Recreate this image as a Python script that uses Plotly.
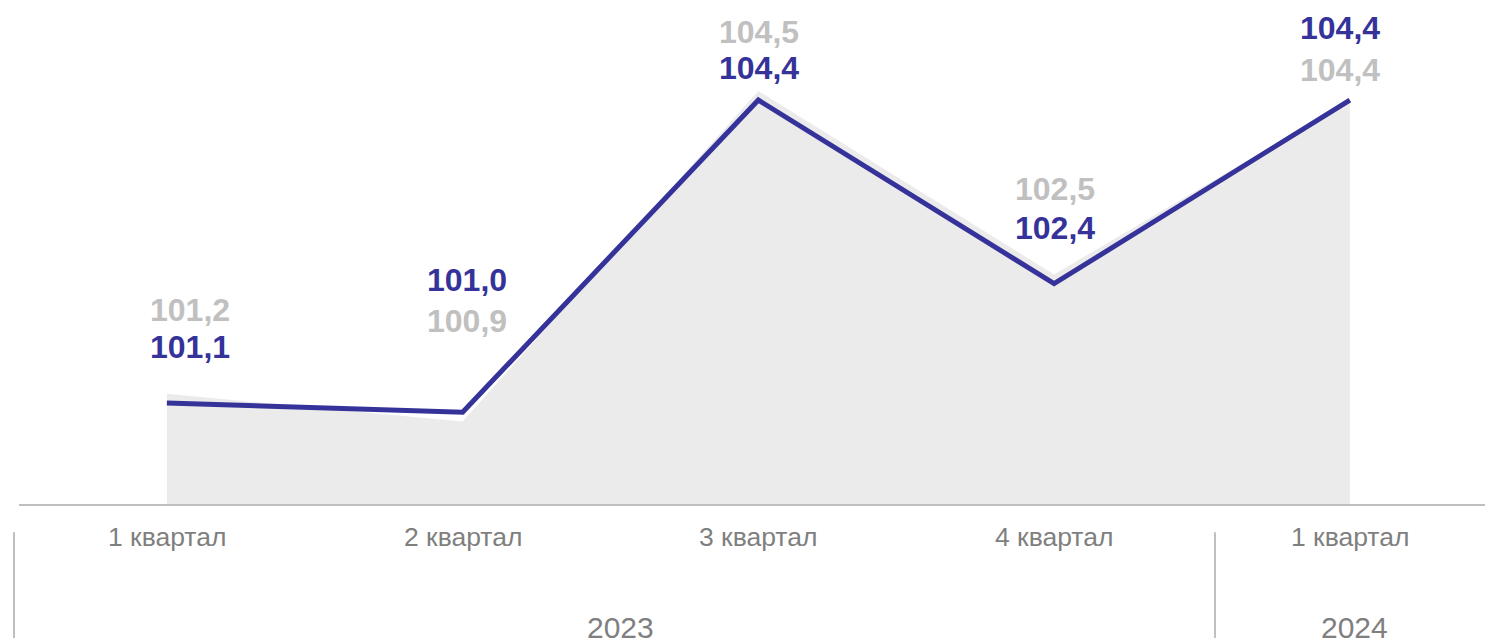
import plotly.graph_objects as go

# data
quarters = ["1 квартал", "2 квартал", "3 квартал", "4 квартал", "1 квартал"]
years = ["2023", "2024"]
area_values = [101.2, 100.9, 104.5, 102.5, 104.4]   # grey area series
line_values = [101.1, 101.0, 104.4, 102.4, 104.4]   # navy line series

NAVY = "#35339a"
GREY_LABEL = "#c0c0c0"
AREA = "#ebebeb"
AXIS = "#bfbfbf"
TICK = "#7f7f7f"
FONT = "Liberation Sans, Arial, sans-serif"

# label offsets in px from the navy point: (dx, navy dy, grey dy)
label_shift = [(23, 56, 93), (4, 132, 91), (1, 32, 68), (1, 56, 95), (-10, 72, 30)]

x = list(range(len(quarters)))

fig = go.Figure()
fig.add_trace(go.Scatter(
    x=x, y=area_values, mode="lines", line=dict(width=0),
    fill="tozeroy", fillcolor=AREA, hoverinfo="skip", showlegend=False,
))
fig.add_trace(go.Scatter(
    x=x, y=line_values, mode="lines", line=dict(color=NAVY, width=5),
    showlegend=False,
))

fmt = lambda v: f"{v:.1f}".replace(".", ",")

for i in x:
    dx, ns, gs = label_shift[i]
    fig.add_annotation(x=i, y=line_values[i], text=f"<b>{fmt(line_values[i])}</b>",
                       showarrow=False, yanchor="middle", xshift=dx, yshift=ns,
                       font=dict(family=FONT, size=32, color=NAVY))
    fig.add_annotation(x=i, y=line_values[i], text=f"<b>{fmt(area_values[i])}</b>",
                       showarrow=False, yanchor="middle", xshift=dx, yshift=gs,
                       font=dict(family=FONT, size=32, color=GREY_LABEL))
    fig.add_annotation(x=i, y=0, yref="paper", text=quarters[i], showarrow=False,
                       yanchor="middle", yshift=-33,
                       font=dict(family=FONT, size=26.5, color=TICK))

# year groups (paper coords)
sep = [-0.0034, 0.8158]
year_pos = [0.41, 0.911]
for s in sep:
    fig.add_shape(type="line", xref="paper", yref="paper", x0=s, x1=s, y0=-0.056, y1=-0.27,
                  line=dict(color=AXIS, width=2))
for k, yr in enumerate(years):
    fig.add_annotation(x=year_pos[k], xref="paper", xanchor="center", y=0, yref="paper",
                       text=yr, showarrow=False, yanchor="middle", yshift=-123,
                       font=dict(family=FONT, size=30, color=TICK))

fig.update_layout(
    width=1485, height=638,
    margin=dict(l=19, r=0, t=0, b=134),
    paper_bgcolor="white", plot_bgcolor="white",
    xaxis=dict(range=[-0.5, 4.457], showticklabels=False, showgrid=False, zeroline=False,
               showline=True, linecolor=AXIS, linewidth=2, fixedrange=True),
    yaxis=dict(range=[100, 105.49], visible=False, showgrid=False, fixedrange=True),
    showlegend=False,
)

fig.write_html("out.html", config={"displayModeBar": False},
               post_script="document.body.style.margin='0';")
